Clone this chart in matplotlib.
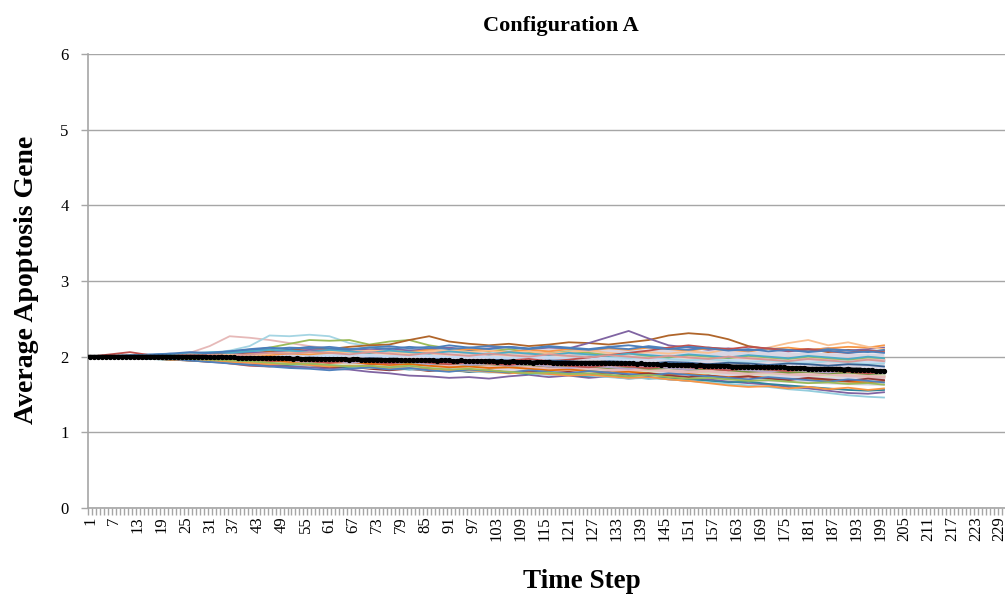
import matplotlib
matplotlib.use("Agg")
import matplotlib.pyplot as plt
from matplotlib.ticker import FixedLocator, NullFormatter

plt.rcParams["font.family"] = ["Liberation Serif", "DejaVu Serif"]

# Trục thời gian
N_STEPS = 200
X_MAX = 230
LABEL_STEPS = list(range(1, X_MAX + 1, 6))
SAMPLE_STEPS = list(range(1, N_STEPS, 5)) + [N_STEPS]
BAND_STEPS = list(range(1, N_STEPS, 10)) + [N_STEPS]

# Đường trung bình (mỗi bước)
MEAN = [
    2.00, 2.00, 2.00, 2.00, 2.00, 2.00, 2.00, 2.00, 2.00, 2.00, 2.00, 2.00, 2.00, 2.00, 2.00, 2.00, 2.00, 2.00, 2.00, 2.00,
    2.00, 2.00, 2.00, 2.00, 2.00, 2.00, 2.00, 2.00, 2.00, 2.00, 1.99, 1.99, 1.99, 2.00, 1.99, 1.99, 1.99, 1.98, 1.98, 1.98,
    1.98, 1.98, 1.98, 1.98, 1.98, 1.98, 1.98, 1.98, 1.98, 1.98, 1.98, 1.97, 1.98, 1.97, 1.97, 1.97, 1.97, 1.97, 1.97, 1.97,
    1.97, 1.97, 1.97, 1.97, 1.97, 1.96, 1.97, 1.97, 1.96, 1.96, 1.96, 1.96, 1.96, 1.96, 1.95, 1.96, 1.96, 1.96, 1.95, 1.95,
    1.95, 1.95, 1.95, 1.95, 1.95, 1.95, 1.95, 1.94, 1.95, 1.95, 1.95, 1.94, 1.94, 1.95, 1.94, 1.94, 1.94, 1.94, 1.94, 1.94,
    1.94, 1.94, 1.93, 1.94, 1.93, 1.93, 1.94, 1.93, 1.93, 1.93, 1.93, 1.92, 1.93, 1.93, 1.93, 1.93, 1.92, 1.92, 1.92, 1.92,
    1.92, 1.92, 1.92, 1.92, 1.92, 1.92, 1.92, 1.92, 1.92, 1.92, 1.91, 1.91, 1.91, 1.91, 1.91, 1.91, 1.91, 1.90, 1.91, 1.90,
    1.90, 1.90, 1.90, 1.89, 1.90, 1.89, 1.89, 1.89, 1.89, 1.89, 1.89, 1.89, 1.88, 1.89, 1.88, 1.88, 1.88, 1.88, 1.88, 1.88,
    1.88, 1.87, 1.87, 1.87, 1.87, 1.87, 1.86, 1.87, 1.86, 1.86, 1.86, 1.86, 1.86, 1.86, 1.86, 1.85, 1.85, 1.85, 1.85, 1.85,
    1.84, 1.84, 1.84, 1.84, 1.84, 1.84, 1.84, 1.84, 1.84, 1.83, 1.84, 1.83, 1.83, 1.83, 1.82, 1.82, 1.82, 1.81, 1.81, 1.81,
]

# Vùng dày đặc của các lần chạy (mỗi 10 bước)
BAND_HI = [2.00, 2.02, 2.04, 2.06, 2.08, 2.09, 2.10, 2.10, 2.11, 2.11, 2.12,
           2.12, 2.11, 2.11, 2.10, 2.09, 2.08, 2.07, 2.06, 2.05, 2.05]
BAND_LO = [2.00, 1.98, 1.96, 1.94, 1.92, 1.90, 1.88, 1.86, 1.84, 1.82, 1.80,
           1.79, 1.77, 1.75, 1.73, 1.71, 1.69, 1.67, 1.65, 1.63, 1.62]

# Các lần chạy nhạt (mỗi 5 bước)
PALE_RUNS = {
    "#CCC1DA": [2.00, 2.00, 2.00, 2.01, 1.99, 2.00, 1.98, 1.99, 1.97, 1.98,
                1.96, 1.97, 1.95, 1.96, 1.94, 1.95, 1.93, 1.94, 1.92, 1.93,
                1.91, 1.92, 1.90, 1.91, 1.89, 1.90, 1.88, 1.89, 1.87, 1.85,
                1.86, 1.84, 1.85, 1.83, 1.81, 1.82, 1.80, 1.81, 1.79, 1.80, 1.78],
    "#FCD5B4": [2.00, 2.00, 2.01, 2.00, 2.02, 2.01, 2.03, 2.02, 2.04, 2.03,
                2.05, 2.04, 2.03, 2.05, 2.04, 2.02, 2.04, 2.03, 2.01, 2.03,
                2.02, 2.00, 2.02, 2.01, 1.99, 2.01, 2.00, 1.98, 2.00, 1.99,
                1.97, 1.99, 1.98, 1.96, 1.98, 1.97, 1.95, 1.97, 1.96, 1.94, 1.96],
    "#D7E4BD": [2.00, 1.99, 1.99, 1.98, 1.97, 1.98, 1.96, 1.95, 1.96, 1.94,
                1.93, 1.94, 1.92, 1.91, 1.92, 1.90, 1.89, 1.90, 1.88, 1.87,
                1.88, 1.86, 1.85, 1.86, 1.84, 1.83, 1.84, 1.82, 1.81, 1.82,
                1.80, 1.79, 1.80, 1.78, 1.77, 1.78, 1.76, 1.75, 1.76, 1.74, 1.75],
    "#C6D9F1": [2.00, 2.00, 2.01, 2.02, 2.01, 2.03, 2.02, 2.04, 2.03, 2.02,
                2.04, 2.03, 2.01, 2.03, 2.02, 2.00, 2.02, 2.01, 1.99, 2.01,
                2.00, 1.98, 2.00, 1.99, 1.97, 1.99, 1.98, 1.96, 1.98, 1.97,
                1.95, 1.97, 1.96, 1.94, 1.96, 1.95, 1.93, 1.95, 1.94, 1.92, 1.94],
    "#E6B9B8": [2.00, 2.00, 1.99, 1.98, 1.99, 1.97, 1.96, 1.97, 1.95, 1.94,
                1.95, 1.93, 1.92, 1.93, 1.91, 1.90, 1.91, 1.89, 1.88, 1.89,
                1.87, 1.86, 1.87, 1.85, 1.84, 1.85, 1.83, 1.82, 1.83, 1.81,
                1.80, 1.81, 1.79, 1.78, 1.79, 1.77, 1.76, 1.77, 1.75, 1.74, 1.73],
}

# Các lần chạy có màu (mỗi 5 bước)
RUN_PINK_HI = [2.00, 2.00, 2.01, 2.02, 2.03, 2.05, 2.14, 2.27, 2.25, 2.22,
               2.18, 2.14, 2.11, 2.08, 2.10, 2.06, 2.08, 2.05, 2.07, 2.04,
               2.02, 2.05, 2.03, 2.06, 2.04, 2.01, 2.03, 2.00, 1.98, 2.01,
               1.99, 1.97, 2.00, 1.98, 1.96, 1.99, 1.97, 1.95, 1.98, 1.96, 1.97]
RUN_LBLUE_HI = [2.00, 2.00, 2.01, 2.01, 2.03, 2.04, 2.05, 2.08, 2.14, 2.28,
                2.27, 2.29, 2.27, 2.18, 2.14, 2.12, 2.09, 2.11, 2.07, 2.09,
                2.06, 2.04, 2.06, 2.03, 2.01, 2.03, 2.00, 1.98, 2.00, 1.97,
                1.95, 1.97, 1.94, 1.92, 1.95, 1.93, 1.91, 1.94, 1.92, 1.90, 1.91]
RUN_GREEN_HI = [2.00, 2.00, 2.00, 2.01, 2.02, 2.01, 2.03, 2.05, 2.08, 2.12,
                2.17, 2.22, 2.21, 2.22, 2.16, 2.20, 2.22, 2.15, 2.11, 2.09,
                2.07, 2.10, 2.06, 2.04, 2.07, 2.05, 2.02, 2.04, 2.01, 1.99,
                2.02, 2.00, 1.98, 2.01, 1.99, 1.97, 2.00, 1.98, 1.96, 1.99, 1.98]
RUN_BROWN = [2.00, 2.00, 1.99, 2.01, 2.02, 2.00, 2.03, 2.05, 2.04, 2.07,
             2.09, 2.11, 2.10, 2.13, 2.15, 2.16, 2.22, 2.27, 2.20, 2.17,
             2.15, 2.17, 2.14, 2.16, 2.19, 2.18, 2.16, 2.19, 2.22, 2.28,
             2.31, 2.29, 2.23, 2.14, 2.10, 2.08, 2.10, 2.06, 2.09, 2.07, 2.08]
RUN_PURPLE_HI = [2.00, 2.00, 2.01, 2.00, 2.02, 2.03, 2.02, 2.04, 2.06, 2.05,
                 2.07, 2.09, 2.08, 2.10, 2.09, 2.11, 2.08, 2.10, 2.12, 2.09,
                 2.11, 2.13, 2.10, 2.12, 2.11, 2.18, 2.26, 2.34, 2.24, 2.15,
                 2.12, 2.09, 2.11, 2.08, 2.10, 2.07, 2.09, 2.11, 2.08, 2.10, 2.12]
RUN_ORANGE_HI = [2.00, 2.00, 1.99, 2.00, 2.01, 2.00, 2.02, 2.01, 2.03, 2.02,
                 2.04, 2.03, 2.05, 2.07, 2.05, 2.08, 2.06, 2.09, 2.07, 2.10,
                 2.08, 2.06, 2.09, 2.07, 2.10, 2.08, 2.11, 2.09, 2.12, 2.10,
                 2.08, 2.11, 2.09, 2.07, 2.10, 2.12, 2.09, 2.11, 2.13, 2.12, 2.15]
RUN_PEACH_HI = [2.00, 2.00, 2.00, 2.01, 2.00, 2.02, 2.01, 2.03, 2.02, 2.04,
                2.06, 2.05, 2.07, 2.06, 2.08, 2.07, 2.05, 2.07, 2.09, 2.06,
                2.08, 2.05, 2.07, 2.04, 2.06, 2.08, 2.05, 2.03, 2.06, 2.04,
                2.07, 2.05, 2.10, 2.08, 2.12, 2.18, 2.22, 2.15, 2.19, 2.13, 2.10]
RUN_BLUE_HI = [2.00, 2.01, 2.02, 2.03, 2.04, 2.03, 2.05, 2.07, 2.09, 2.10,
               2.12, 2.11, 2.13, 2.10, 2.12, 2.14, 2.11, 2.13, 2.10, 2.12,
               2.14, 2.12, 2.10, 2.13, 2.11, 2.09, 2.12, 2.10, 2.14, 2.11,
               2.09, 2.12, 2.10, 2.08, 2.11, 2.09, 2.07, 2.10, 2.08, 2.06, 2.09]
RUN_RED_MID = [2.00, 2.03, 2.06, 2.02, 2.00, 1.97, 1.95, 1.91, 1.88, 1.87,
               1.89, 1.91, 1.88, 1.86, 1.89, 1.92, 1.90, 1.93, 1.91, 1.94,
               1.92, 1.95, 1.97, 1.94, 1.96, 1.99, 2.02, 2.05, 2.08, 2.12,
               2.15, 2.12, 2.10, 2.13, 2.11, 2.08, 2.10, 2.07, 2.05, 2.08, 2.06]
RUN_AQUA_MID = [2.00, 2.00, 2.01, 2.02, 2.03, 2.04, 2.06, 2.05, 2.07, 2.09,
                2.08, 2.06, 2.09, 2.07, 2.05, 2.08, 2.06, 2.04, 2.07, 2.05,
                2.03, 2.06, 2.04, 2.02, 2.05, 2.03, 2.01, 2.04, 2.02, 2.00,
                2.03, 2.01, 1.99, 2.02, 2.00, 1.98, 2.01, 1.99, 1.97, 2.00, 1.98]
RUN_NAVY_MID = [2.00, 2.00, 2.01, 2.00, 1.99, 2.01, 2.00, 1.98, 2.00, 1.99,
                1.97, 1.99, 1.98, 1.96, 1.98, 1.97, 1.95, 1.97, 1.96, 1.94,
                1.96, 1.95, 1.93, 1.95, 1.94, 1.92, 1.94, 1.93, 1.91, 1.93,
                1.92, 1.90, 1.92, 1.91, 1.89, 1.91, 1.90, 1.88, 1.90, 1.89, 1.87]
RUN_OLIVE_MID = [2.00, 2.00, 1.99, 1.98, 1.99, 1.97, 1.98, 1.96, 1.95, 1.96,
                 1.94, 1.95, 1.93, 1.94, 1.92, 1.93, 1.91, 1.90, 1.91, 1.89,
                 1.90, 1.88, 1.89, 1.87, 1.86, 1.87, 1.85, 1.86, 1.84, 1.85,
                 1.83, 1.84, 1.82, 1.80, 1.81, 1.79, 1.80, 1.78, 1.79, 1.77, 1.78]
RUN_ORANGE_MID = [2.00, 2.00, 2.00, 1.99, 1.98, 1.97, 1.98, 1.96, 1.97, 1.95,
                  1.93, 1.94, 1.92, 1.93, 1.91, 1.89, 1.90, 1.88, 1.86, 1.87,
                  1.85, 1.86, 1.84, 1.82, 1.83, 1.81, 1.79, 1.80, 1.78, 1.76,
                  1.77, 1.75, 1.73, 1.74, 1.72, 1.70, 1.71, 1.69, 1.67, 1.66, 1.68]
RUN_ROSE_MID = [2.00, 2.01, 2.00, 2.02, 2.01, 2.03, 2.02, 2.01, 2.03, 2.05,
                2.04, 2.06, 2.05, 2.03, 2.06, 2.04, 2.02, 2.05, 2.03, 2.01,
                2.04, 2.02, 2.00, 2.03, 2.01, 1.99, 2.02, 2.00, 1.98, 2.01,
                1.99, 1.97, 2.00, 1.98, 1.96, 1.94, 1.97, 1.95, 1.93, 1.96, 1.94]
RUN_LAV_MID = [2.00, 2.00, 1.99, 2.00, 1.98, 1.99, 1.97, 1.98, 1.96, 1.97,
               1.95, 1.93, 1.95, 1.92, 1.94, 1.91, 1.93, 1.90, 1.92, 1.89,
               1.91, 1.88, 1.90, 1.87, 1.85, 1.88, 1.86, 1.84, 1.87, 1.85,
               1.83, 1.86, 1.84, 1.82, 1.80, 1.83, 1.81, 1.79, 1.82, 1.80, 1.78]
RUN_BLUE_UP = [2.00, 2.00, 2.01, 2.02, 2.04, 2.06, 2.05, 2.07, 2.10, 2.12,
               2.10, 2.13, 2.11, 2.09, 2.12, 2.10, 2.13, 2.11, 2.15, 2.12,
               2.10, 2.13, 2.11, 2.14, 2.12, 2.10, 2.13, 2.15, 2.12, 2.10,
               2.13, 2.11, 2.08, 2.10, 2.07, 2.09, 2.06, 2.08, 2.05, 2.07, 2.05]
RUN_RED_LOWMID = [2.00, 1.99, 2.00, 1.98, 1.99, 1.97, 1.96, 1.98, 1.96, 1.94,
                  1.96, 1.94, 1.92, 1.95, 1.93, 1.91, 1.94, 1.92, 1.90, 1.93,
                  1.91, 1.89, 1.92, 1.90, 1.88, 1.86, 1.89, 1.87, 1.85, 1.88,
                  1.86, 1.84, 1.82, 1.85, 1.83, 1.81, 1.84, 1.82, 1.80, 1.78, 1.80]
RUN_RED_LO = [2.00, 2.00, 1.99, 1.98, 1.96, 1.95, 1.93, 1.92, 1.90, 1.88,
              1.86, 1.88, 1.85, 1.87, 1.84, 1.82, 1.84, 1.81, 1.83, 1.80,
              1.82, 1.79, 1.81, 1.78, 1.80, 1.77, 1.79, 1.76, 1.78, 1.75,
              1.73, 1.75, 1.72, 1.74, 1.71, 1.69, 1.72, 1.70, 1.68, 1.71, 1.69]
RUN_PURPLE_LO = [2.00, 1.99, 1.98, 1.97, 1.97, 1.95, 1.94, 1.93, 1.91, 1.89,
                 1.87, 1.86, 1.84, 1.83, 1.80, 1.78, 1.75, 1.74, 1.72, 1.73,
                 1.71, 1.74, 1.76, 1.73, 1.75, 1.72, 1.74, 1.71, 1.73, 1.70,
                 1.68, 1.70, 1.67, 1.65, 1.63, 1.60, 1.58, 1.55, 1.52, 1.51, 1.53]
RUN_TEAL_LO = [2.00, 1.99, 1.99, 1.97, 1.96, 1.95, 1.94, 1.92, 1.93, 1.91,
               1.89, 1.90, 1.88, 1.86, 1.87, 1.85, 1.83, 1.84, 1.82, 1.80,
               1.81, 1.79, 1.77, 1.78, 1.76, 1.74, 1.75, 1.73, 1.71, 1.72,
               1.70, 1.68, 1.66, 1.67, 1.64, 1.62, 1.60, 1.58, 1.56, 1.55, 1.56]
RUN_LBLUE_LO = [2.00, 2.00, 1.99, 1.98, 1.97, 1.96, 1.95, 1.93, 1.92, 1.91,
                1.90, 1.88, 1.89, 1.87, 1.85, 1.86, 1.84, 1.82, 1.83, 1.81,
                1.79, 1.80, 1.78, 1.76, 1.77, 1.75, 1.73, 1.71, 1.72, 1.70,
                1.68, 1.66, 1.64, 1.62, 1.60, 1.57, 1.55, 1.52, 1.49, 1.47, 1.46]
RUN_ORANGE_LO = [2.00, 1.99, 1.98, 1.98, 1.96, 1.95, 1.95, 1.93, 1.92, 1.90,
                 1.91, 1.89, 1.87, 1.88, 1.86, 1.84, 1.85, 1.83, 1.81, 1.82,
                 1.80, 1.78, 1.79, 1.77, 1.75, 1.76, 1.74, 1.72, 1.73, 1.70,
                 1.68, 1.65, 1.62, 1.60, 1.61, 1.58, 1.60, 1.57, 1.59, 1.56, 1.58]
RUN_BLUE_LO = [2.00, 2.00, 1.99, 1.98, 1.97, 1.95, 1.93, 1.91, 1.89, 1.87,
               1.85, 1.84, 1.82, 1.84, 1.86, 1.83, 1.85, 1.82, 1.80, 1.83,
               1.81, 1.79, 1.82, 1.80, 1.78, 1.81, 1.79, 1.77, 1.75, 1.78,
               1.76, 1.74, 1.72, 1.70, 1.73, 1.71, 1.69, 1.67, 1.70, 1.68, 1.66]
RUN_GREEN_LO = [2.00, 2.00, 2.00, 1.99, 1.98, 1.97, 1.96, 1.95, 1.94, 1.92,
                1.90, 1.91, 1.89, 1.87, 1.88, 1.86, 1.88, 1.85, 1.83, 1.84,
                1.82, 1.80, 1.78, 1.79, 1.77, 1.78, 1.76, 1.74, 1.76, 1.73,
                1.71, 1.72, 1.70, 1.68, 1.69, 1.67, 1.65, 1.66, 1.64, 1.65, 1.63]

COLOR_RUNS = [
    ("#E6B9B8", RUN_PINK_HI), ("#A5D5E3", RUN_LBLUE_HI), ("#9BBB59", RUN_GREEN_HI),
    ("#B0652A", RUN_BROWN), ("#8064A2", RUN_PURPLE_HI), ("#F79646", RUN_ORANGE_HI),
    ("#FAC090", RUN_PEACH_HI), ("#4F81BD", RUN_BLUE_HI), ("#C0504D", RUN_RED_MID),
    ("#4BACC6", RUN_AQUA_MID), ("#376092", RUN_NAVY_MID), ("#77933C", RUN_OLIVE_MID),
    ("#E46C0A", RUN_ORANGE_MID), ("#D99694", RUN_ROSE_MID), ("#B3A2C7", RUN_LAV_MID),
    ("#4A7EBB", RUN_BLUE_UP), ("#C0504D", RUN_RED_LOWMID), ("#953735", RUN_RED_LO),
    ("#8064A2", RUN_PURPLE_LO), ("#31859C", RUN_TEAL_LO), ("#93CDDD", RUN_LBLUE_LO),
    ("#F79646", RUN_ORANGE_LO), ("#4F81BD", RUN_BLUE_LO), ("#9BBB59", RUN_GREEN_LO),
]

GRID = "#a6a6a6"

fig = plt.figure(figsize=(10.05, 5.96), dpi=100)
ax = fig.add_axes([88 / 1005, 1 - 508 / 596, 1 - 88 / 1005, (508 - 54) / 596])

ax.fill_between(BAND_STEPS, BAND_LO, BAND_HI, color="#d9d6e3", lw=0, zorder=1)
for c, vals in PALE_RUNS.items():
    ax.plot(SAMPLE_STEPS, vals, color=c, lw=2.2, zorder=2)
for c, vals in COLOR_RUNS:
    ax.plot(SAMPLE_STEPS, vals, color=c, lw=1.3, zorder=3)

steps = list(range(1, N_STEPS + 1))
ax.plot(steps, MEAN, color="black", lw=2.8, marker="o", ms=2.8, zorder=5)

# Trục
ax.set_xlim(0.5, 0.5 + (1005 - 88) / 3.99)
ax.set_ylim(0, 6)
ax.set_yticks(range(0, 7))
ax.yaxis.grid(True, color=GRID, lw=1)
ax.set_axisbelow(True)

ax.xaxis.set_major_locator(FixedLocator(LABEL_STEPS))
ax.set_xticklabels([str(s) for s in LABEL_STEPS], rotation=90, fontsize=12)
ax.xaxis.set_minor_locator(FixedLocator([k + 0.5 for k in range(0, X_MAX + 1)]))
ax.xaxis.set_minor_formatter(NullFormatter())
ax.tick_params(axis="x", which="major", length=0, pad=6)
ax.tick_params(axis="x", which="minor", length=5, color=GRID, width=1)
ax.tick_params(axis="y", length=5, color=GRID, width=1, labelsize=12, pad=9)

for s in ("top", "right"):
    ax.spines[s].set_visible(False)
for s in ("left", "bottom"):
    ax.spines[s].set_color(GRID)
    ax.spines[s].set_linewidth(1.2)

# Tiêu đề và nhãn
fig.text(561 / 1005, 1 - 31 / 596, "Configuration A", ha="center", va="baseline",
         fontsize=16, fontweight="bold")
fig.text(27 / 1005, 1 - 280 / 596, "Average Apoptosis Gene", rotation=90,
         ha="center", va="center", fontsize=20, fontweight="bold")
fig.text(582 / 1005, 1 - 582 / 596, "Time Step", ha="center", va="center",
         fontsize=19.5, fontweight="bold")

fig.savefig("out.png", dpi=100)
